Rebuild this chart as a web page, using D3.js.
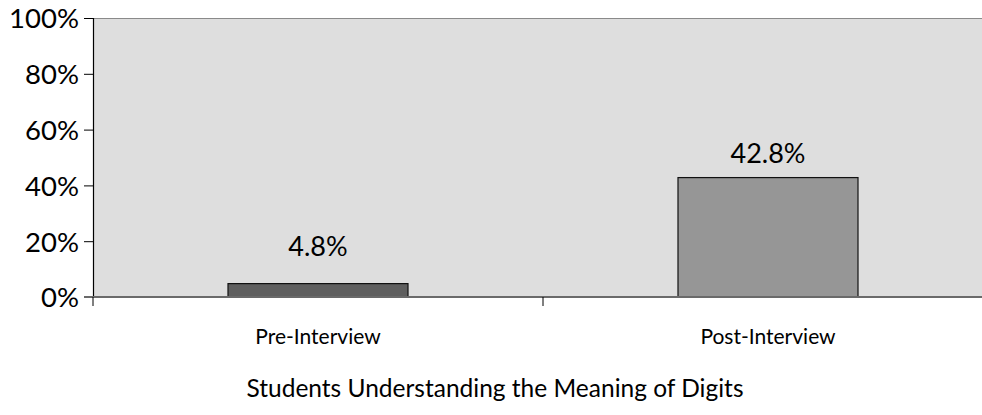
<!DOCTYPE html>
<html>
<head>
<meta charset="utf-8">
<script src="https://cdn.jsdelivr.net/npm/d3@7"></script>
<style>
  body { margin: 0; background: #fff; overflow: hidden; }
  svg { display: block; }
  text { font-family: Lato, "Open Sans", sans-serif; fill: #000; }
</style>
</head>
<body>
<div id="chart"></div>
<script>
// chart data
var categories = ["Pre-Interview", "Post-Interview"];
var values = [4.8, 42.8];
var barColors = ["#5f5f5f", "#969696"];
var yTicks = [0, 20, 40, 60, 80, 100];
var chartTitle = "Students Understanding the Meaning of Digits";

var svgWidth = 982;
var svgHeight = 415;

var margin = { top: 18, right: -11, bottom: 118, left: 93 };
var width = svgWidth - margin.left - margin.right;
var height = svgHeight - margin.top - margin.bottom;

var svg = d3.select("#chart")
  .append("svg")
  .attr("width", svgWidth)
  .attr("height", svgHeight);

var chartGroup = svg.append("g")
  .attr("transform", `translate(${margin.left}, ${margin.top})`);

var xScale = d3.scaleBand()
  .domain(categories)
  .range([0, width])
  .paddingInner(0.6)
  .paddingOuter(0.3);

var xBand = d3.scaleBand()
  .domain(categories)
  .range([0, width]);

var yScale = d3.scaleLinear()
  .domain([0, 100])
  .range([height, 0]);

// plot background (runs off the right edge, so only the top border shows)
chartGroup.append("rect")
  .attr("x", 0)
  .attr("y", 0)
  .attr("width", width)
  .attr("height", height)
  .attr("fill", "#dedede");

chartGroup.append("line")
  .attr("x1", 0)
  .attr("x2", width)
  .attr("y1", 0.5)
  .attr("y2", 0.5)
  .attr("stroke", "#8a8a8a");

// bars
chartGroup.selectAll(".bar")
  .data(values)
  .enter()
  .append("rect")
  .attr("class", "bar")
  .attr("x", (d, i) => xScale(categories[i]))
  .attr("y", d => yScale(d))
  .attr("width", xScale.bandwidth())
  .attr("height", d => height - yScale(d))
  .attr("fill", (d, i) => barColors[i])
  .attr("stroke", "#111")
  .attr("stroke-width", 1.2);

// value labels
var labelGap = [28, 15];
chartGroup.selectAll(".valueLabel")
  .data(values)
  .enter()
  .append("text")
  .attr("class", "valueLabel")
  .attr("x", (d, i) => xScale(categories[i]) + xScale.bandwidth() / 2)
  .attr("y", (d, i) => yScale(d) - labelGap[i])
  .attr("text-anchor", "middle")
  .style("font-size", "27px")
  .text(d => d.toFixed(1) + "%");

// y axis
var leftAxis = d3.axisLeft(yScale)
  .tickValues(yTicks)
  .tickSize(9)
  .tickPadding(5)
  .tickFormat(d => d + "%");

var yAxis = chartGroup.append("g").call(leftAxis);
yAxis.select(".domain").attr("stroke", "#000").attr("stroke-width", 1.2);
yAxis.selectAll(".tick line").attr("stroke", "#000");
yAxis.selectAll(".tick text")
  .style("font-size", "27.5px")
  .attr("dy", "0.36em");

// x axis
var bottomAxis = d3.axisBottom(xBand)
  .tickSize(0)
  .tickPadding(32);

var xAxis = chartGroup.append("g")
  .attr("transform", `translate(0, ${height})`)
  .call(bottomAxis);
xAxis.select(".domain").remove();
xAxis.selectAll(".tick text").style("font-size", "21px");

// baseline and category separators
chartGroup.append("line")
  .attr("x1", -9)
  .attr("x2", width)
  .attr("y1", height)
  .attr("y2", height)
  .attr("stroke", "#6a6a6a")
  .attr("stroke-width", 2);

chartGroup.selectAll(".sep")
  .data(categories)
  .enter()
  .append("line")
  .attr("class", "sep")
  .attr("x1", d => xBand(d))
  .attr("x2", d => xBand(d))
  .attr("y1", height)
  .attr("y2", height + 9)
  .attr("stroke", "#000");

// title
svg.append("text")
  .attr("x", 495)
  .attr("y", 397)
  .attr("text-anchor", "middle")
  .style("font-size", "24.5px")
  .text(chartTitle);
</script>
</body>
</html>
